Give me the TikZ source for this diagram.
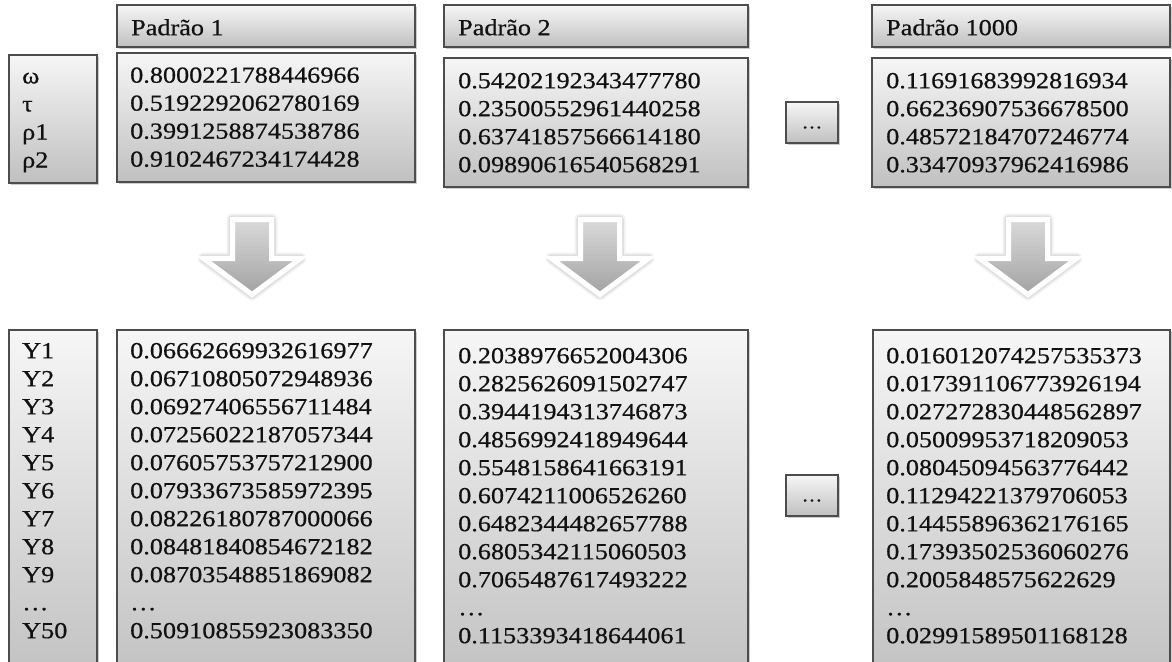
\documentclass[tikz,border=0pt]{standalone}
\usepackage{fontspec}
\setmainfont{Liberation Serif}[FakeStretch=1.14, FakeBold=0.6]
\usetikzlibrary{shadows}

\definecolor{edge}{HTML}{4D4D4D}
\definecolor{ink}{HTML}{111111}
\definecolor{paneltop}{HTML}{F6F6F6}
\definecolor{panelbot}{HTML}{C0C0C0}
\definecolor{arrowtop}{HTML}{DADADA}
\definecolor{arrowbot}{HTML}{A2A2A2}

\tikzset{
  panel/.style={draw=edge, line width=1.1pt, top color=paneltop, bottom color=panelbot,
    inner sep=0pt, outer sep=0pt, anchor=north west,
    drop shadow={shadow xshift=1.6pt, shadow yshift=-1.6pt, opacity=.35, fill=black!55}},
  listing/.style={anchor=north west, inner sep=0pt, align=left, text=ink,
    font=\fontsize{23}{28}\selectfont},
  dotsbox/.style={panel, minimum width=52pt, minimum height=41pt, text=ink,
    font=\fontsize{18}{20}\selectfont},
  arrowpath/.style={insert path={(-19.5,0) -- (19.5,0) -- (19.5,39) -- (48.5,39)
    -- (0,75) -- (-48.5,39) -- (-19.5,39) -- cycle}},
  pics/downarrow/.style={code={
    \path[draw=black, opacity=.05, line width=12pt, line join=round, arrowpath];
    \path[draw=black, opacity=.08, line width=8.5pt, line join=round, arrowpath];
    \path[draw=white, line width=5pt, line join=miter, top color=arrowtop,
      bottom color=arrowbot, arrowpath];
  }}
}

\begin{document}
\begin{tikzpicture}[x=1pt, y=-1pt]
  \useasboundingbox (0,0) rectangle (1172,661);
  \clip (0,0) rectangle (1172,661);

  % headers
  \node[panel, minimum width=298pt, minimum height=42pt] (h1) at (117,5) {};
  \node[panel, minimum width=304pt, minimum height=42pt] (h2) at (444,5) {};
  \node[panel, minimum width=298pt, minimum height=42pt] (h3) at (872,5) {};
  \node[listing] (h1t) at (131,15.4) {\strut Padrão 1};
  \node[listing] (h2t) at (458,15.4) {\strut Padrão 2};
  \node[listing] (h3t) at (886,15.4) {\strut Padrão 1000};

  % input parameters
  \node[panel, minimum width=88pt, minimum height=128pt] (par) at (9,55) {};
  \node[panel, minimum width=298pt, minimum height=129pt] (v1) at (117,53) {};
  \node[panel, minimum width=304pt, minimum height=129pt] (v2) at (444,58) {};
  \node[panel, minimum width=298pt, minimum height=129pt] (v3) at (872,58) {};
  \node[dotsbox] (d1) at (786,102) {\vphantom{0}…};

  \node[listing] (part) at (22,63.7) {\strut ω\\τ\\ρ1\\ρ2};
  \node[listing] (v1t) at (130,62.9) {\strut 0.8000221788446966\\0.5192292062780169\\0.3991258874538786\\0.9102467234174428};
  \node[listing] (v2t) at (458,68.4) {\strut 0.54202192343477780\\0.23500552961440258\\0.63741857566614180\\0.09890616540568291};
  \node[listing] (v3t) at (886,68.4) {\strut 0.11691683992816934\\0.66236907536678500\\0.48572184707246774\\0.33470937962416986};

  % transition arrows
  \pic at (252,219.5) {downarrow};
  \pic at (600,219.5) {downarrow};
  \pic at (1028,219.5) {downarrow};

  % outputs
  \node[panel, minimum width=88pt, minimum height=360pt] (ys) at (9,330) {};
  \node[panel, minimum width=298pt, minimum height=360pt] (b1) at (117,330) {};
  \node[panel, minimum width=304pt, minimum height=360pt] (b2) at (444,330) {};
  \node[panel, minimum width=297pt, minimum height=360pt] (b3) at (873,330) {};
  \node[dotsbox] (d2) at (786,475) {\vphantom{0}…};

  \node[listing] (yst) at (22,338.4) {\strut Y1\\Y2\\Y3\\Y4\\Y5\\Y6\\Y7\\Y8\\Y9\\…\\Y50};
  \node[listing] (b1t) at (130,338.4) {\strut 0.06662669932616977\\0.06710805072948936\\0.06927406556711484\\0.07256022187057344\\0.07605753757212900\\0.07933673585972395\\0.08226180787000066\\0.08481840854672182\\0.08703548851869082\\…\\0.50910855923083350};
  \node[listing] (b2t) at (458,343.4) {\strut 0.2038976652004306\\0.2825626091502747\\0.3944194313746873\\0.4856992418949644\\0.5548158641663191\\0.6074211006526260\\0.6482344482657788\\0.6805342115060503\\0.7065487617493222\\…\\0.1153393418644061};
  \node[listing] (b3t) at (886,343.4) {\strut 0.016012074257535373\\0.017391106773926194\\0.027272830448562897\\0.05009953718209053\\0.08045094563776442\\0.11294221379706053\\0.14455896362176165\\0.17393502536060276\\0.2005848575622629\\…\\0.02991589501168128};
\end{tikzpicture}
\end{document}
